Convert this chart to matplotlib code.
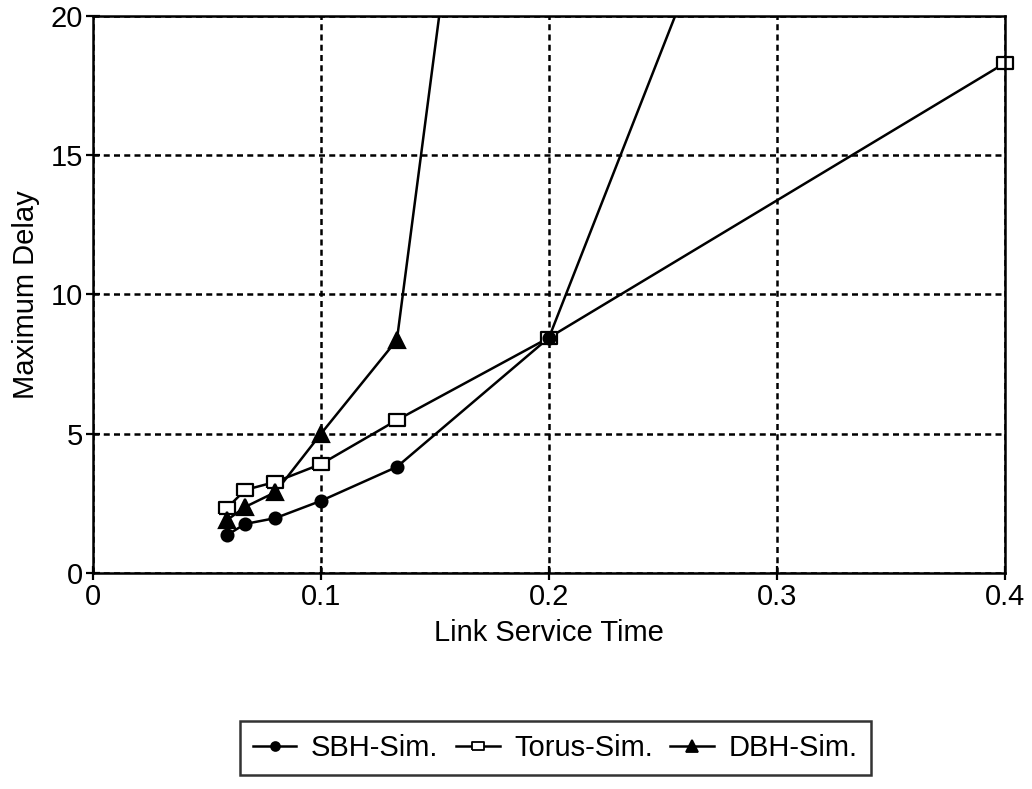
import numpy as np
import matplotlib
matplotlib.use("Agg")
import matplotlib.pyplot as plt
from matplotlib.lines import Line2D

plt.rcParams['font.family'] = ['Liberation Sans', 'DejaVu Sans']

# link service times (1/17, 1/15, 1/12.5, 1/10, 1/7.5, 1/5, 1/2.5)
service_time = [0.0588, 0.0667, 0.08, 0.1, 0.1333, 0.2, 0.4]
sbh_delay = [1.36, 1.76, 1.97, 2.59, 3.81, 8.45, 50.2]
torus_delay = [2.33, 2.98, 3.27, 3.91, 5.49, 8.45, 18.31]
dbh_time = [0.0588, 0.0667, 0.08, 0.1, 0.1333, 0.2]
dbh_delay = [1.9, 2.37, 2.9, 5.0, 8.37, 50.2]

x_ticks = [0, 0.1, 0.2, 0.3, 0.4]
x_labels = ['0', '0.1', '0.2', '0.3', '0.4']
y_ticks = [0, 5, 10, 15, 20]

# wide hollow rectangle for the torus marker
rect = [(-1.45, -1), (1.45, -1), (1.45, 1), (-1.45, 1), (-1.45, -1)]

series = [
    ('SBH-Sim.', service_time, sbh_delay, dict(marker='o', markersize=8.5, markerfacecolor='black'), 6),
    ('Torus-Sim.', service_time, torus_delay, dict(marker=rect, markersize=12, markerfacecolor='white'), 4),
    ('DBH-Sim.', dbh_time, dbh_delay, dict(marker='^', markersize=11, markerfacecolor='black'), 5),
]

fig = plt.figure(figsize=(10.32, 7.89), dpi=100)
ax = fig.add_axes([0.0901, 0.2738, 0.8837, 0.7059])

ax.set_xlim(0, 0.4)
ax.set_ylim(0, 20)

handles = []
for name, xs, ys, mk, z in series:
    xs = np.array(xs)
    ys = np.array(ys)
    ax.plot(xs, ys, color='black', linewidth=1.8, zorder=3)
    inside = ys <= 20
    ax.plot(xs[inside], ys[inside], linestyle='none', color='black',
            markeredgecolor='black', markeredgewidth=1.6, clip_on=False, zorder=z, **mk)
    handles.append(Line2D([], [], color='black', linewidth=1.8,
                          markeredgecolor='black', markeredgewidth=1.3,
                          **{**mk, 'markersize': mk['markersize'] * 0.75}))

ax.set_xticks(x_ticks)
ax.set_xticklabels(x_labels)
ax.set_yticks(y_ticks)
ax.tick_params(direction='inout', length=10, width=1.6, labelsize=21, pad=2, colors='black')

ax.grid(True, color='black', linestyle=(0, (2.4, 1.7)), linewidth=1.8, zorder=1)
for s in ax.spines.values():
    s.set_linewidth(1.8)
    s.set_zorder(7)

ax.set_xlabel('Link Service Time', fontsize=21, labelpad=6)
ax.set_ylabel('Maximum Delay', fontsize=21, labelpad=8)

leg = fig.legend(handles, [s[0] for s in series], loc='center', ncol=3,
                 bbox_to_anchor=(0.538, 0.052), fontsize=21, frameon=True,
                 fancybox=False, handlelength=1.5, handletextpad=0.5,
                 columnspacing=0.6, borderpad=0.45, borderaxespad=0)
leg.get_frame().set_edgecolor('black')
leg.get_frame().set_linewidth(1.8)

fig.savefig('out.png', dpi=100)
